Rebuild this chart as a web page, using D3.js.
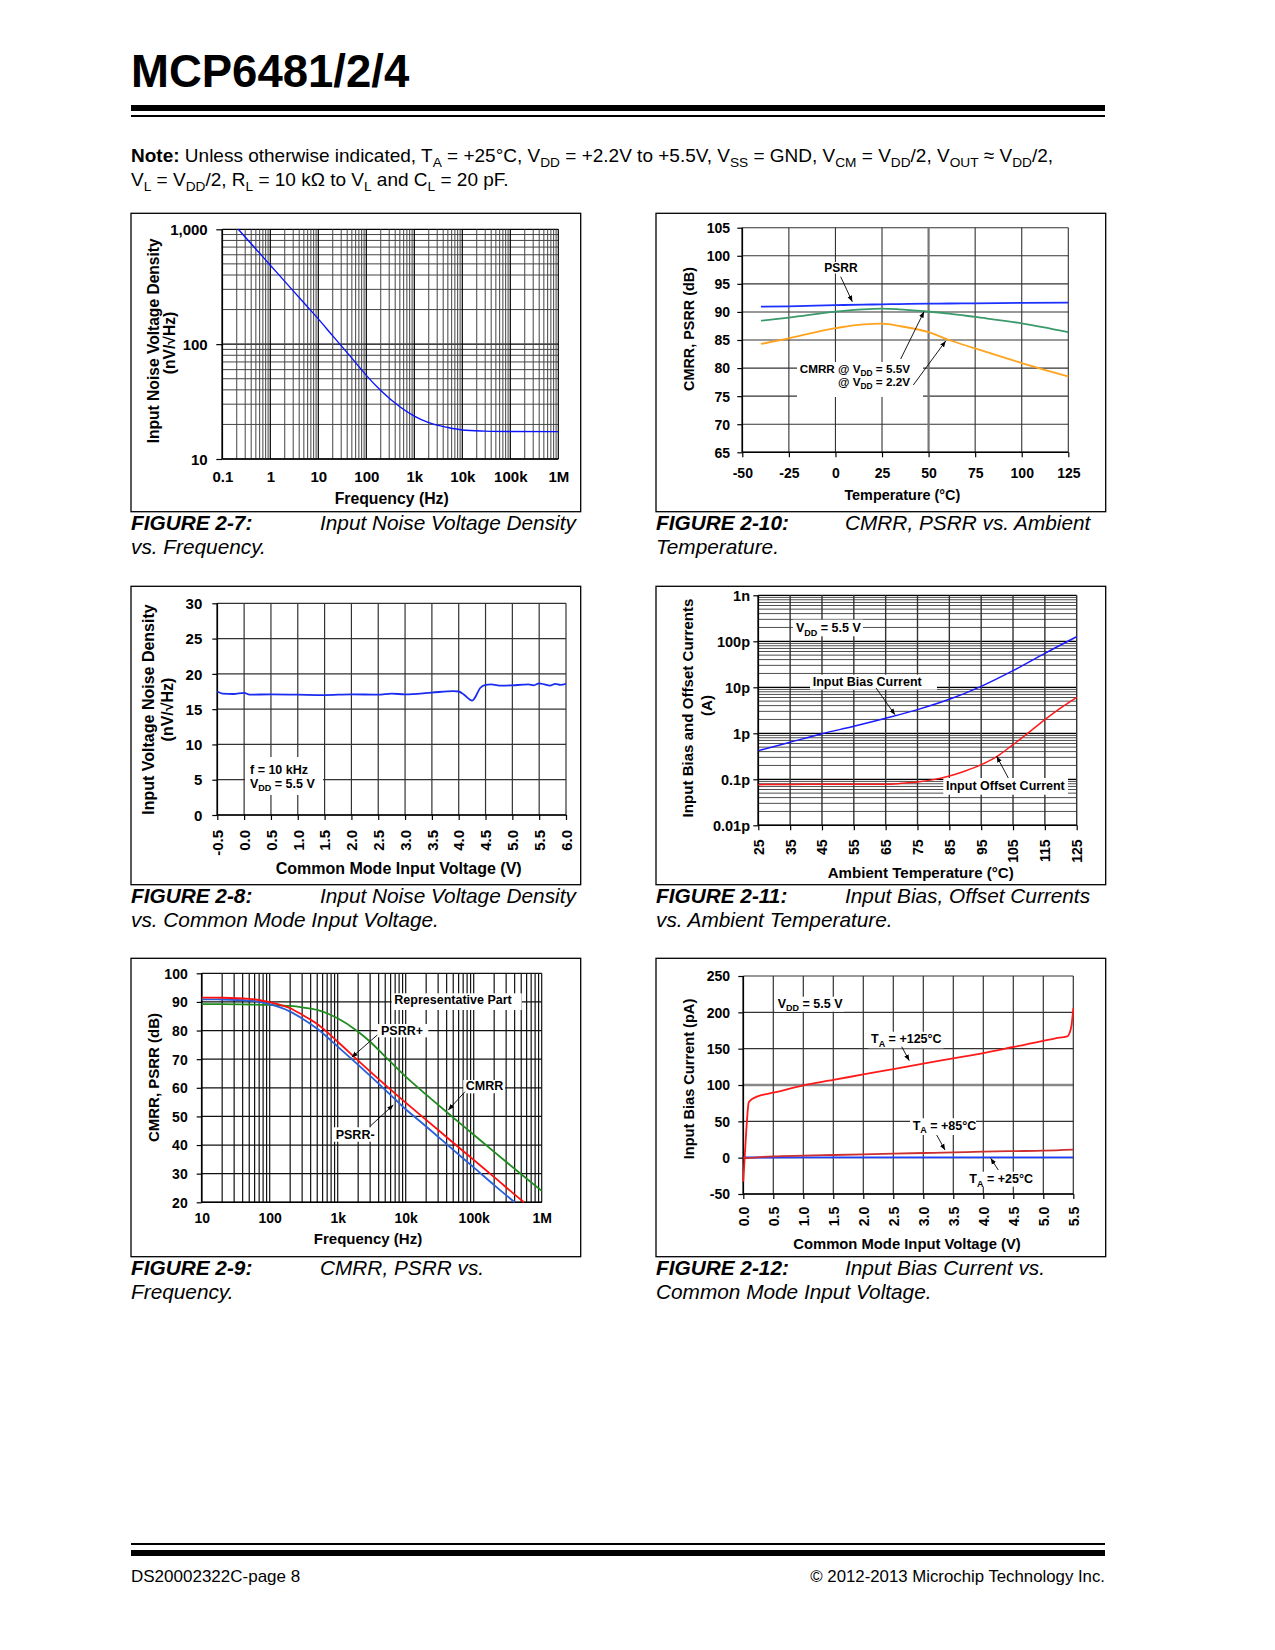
<!DOCTYPE html>
<html><head><meta charset="utf-8">
<script src="https://cdn.jsdelivr.net/npm/d3@7"></script>
<style>
html,body{margin:0;padding:0;background:#fff;}
svg{display:block;font-family:"Liberation Sans",Arial,Helvetica,sans-serif;}
</style></head><body>
<svg id="page" width="1275" height="1650"></svg>
<script>
// ================= DATA =================
// Figure 2-7: Input noise voltage density vs frequency
const fig7Freq  = [0.215,0.5,1,2,5,10,20,50,100,200,500,1000,2000,5000,10000,30000,100000,1000000];
const fig7Noise = [1000,674,487,352,229,166,118,75.5,53.5,39.5,28.5,23.6,20.7,18.8,17.9,17.5,17.35,17.3];
const fig7XTicks = [0.1,1,10,100,1e3,1e4,1e5,1e6];
const fig7XLabels = ["0.1","1","10","100","1k","10k","100k","1M"];
const fig7YTicks = [10,100,1000];
const fig7YLabels = ["10","100","1,000"];

// Figure 2-10: CMRR, PSRR vs ambient temperature
const fig10Temp    = [-40,-25,0,15,25,34,50,61,75,100,125];
const fig10Psrr    = [90.93,91.0,91.2,91.3,91.35,91.4,91.47,91.5,91.52,91.62,91.65];
const fig10Cmrr55  = [88.44,88.98,90.05,90.47,90.58,90.47,90.05,89.7,89.1,87.97,86.4];
const fig10Cmrr22  = [84.3,85.3,87.1,87.8,87.9,87.5,86.4,85.0,83.5,80.9,78.5];
const fig10XTicks  = [-50,-25,0,25,50,75,100,125];
const fig10XLabels = ["-50","-25","0","25","50","75","100","125"];
const fig10YTicks  = [65,70,75,80,85,90,95,100,105];
const fig10YLabels = ["65","70","75","80","85","90","95","100","105"];

// Figure 2-8: Input noise voltage density vs common mode input voltage
const fig8Vcm   = [-0.5,-0.4,-0.2,0.0,0.1,0.5,1.0,1.5,2.0,2.5,2.75,3.0,3.5,3.9,4.0,4.1,4.2,4.25,4.3,4.4,4.5,4.6,4.8,5.0,5.2,5.3,5.4,5.5,5.6,5.7,5.8,5.9,6.0];
const fig8Noise = [17.5,17.2,17.15,17.3,17.05,17.1,17.05,17.0,17.1,17.05,17.2,17.1,17.35,17.55,17.5,17.05,16.4,16.2,16.6,18.0,18.43,18.5,18.33,18.38,18.47,18.5,18.38,18.66,18.5,18.33,18.57,18.43,18.6];
const fig8XTicks  = [-0.5,0,0.5,1,1.5,2,2.5,3,3.5,4,4.5,5,5.5,6];
const fig8XLabels = ["-0.5","0.0","0.5","1.0","1.5","2.0","2.5","3.0","3.5","4.0","4.5","5.0","5.5","6.0"];
const fig8YTicks  = [0,5,10,15,20,25,30];
const fig8YLabels = ["0","5","10","15","20","25","30"];

// Figure 2-11: Input bias, offset currents vs ambient temperature (values in pA)
const fig11BiasTemp = [25,35,45,55,65,75,85,95,105,115,125];
const fig11Bias     = [0.42,0.64,0.98,1.42,2.12,3.27,5.48,10.5,23,54.8,126];
const fig11OffTemp  = [25,35,45,55,65,70,75,80,85,90,95,100,105,110,115,120,125];
const fig11Offset   = [0.0766,0.0775,0.0778,0.0778,0.0779,0.0818,0.0875,0.0984,0.118,0.152,0.208,0.316,0.567,1.05,1.98,3.56,6.06];
const fig11XTicks   = [25,35,45,55,65,75,85,95,105,115,125];
const fig11XLabels  = ["25","35","45","55","65","75","85","95","105","115","125"];
const fig11YTicks   = [0.01,0.1,1,10,100,1000];
const fig11YLabels  = ["0.01p","0.1p","1p","10p","100p","1n"];

// Figure 2-9: CMRR, PSRR vs frequency
const fig9PsrrPFreq = [10,20,50,100,200,300,500,1000,2000,5000,10000,20000,50000,100000,200000,500000,550000];
const fig9PsrrP     = [91.5,91.45,91.1,89.9,87.8,85.5,82.3,76.1,69.5,61.0,54.8,48.8,40.8,34.8,28.8,20.8,20.0];
const fig9PsrrMFreq = [10,20,50,100,200,300,500,1000,2000,5000,10000,20000,50000,100000,200000,400000];
const fig9PsrrM     = [90.9,90.85,90.45,89.2,86.6,84.2,80.6,74.4,68.0,59.3,52.5,46.5,38.3,32.2,26.0,20.0];
const fig9CmrrFreq  = [10,20,50,100,200,300,500,1000,2000,3000,5000,10000,20000,50000,100000,200000,500000,1000000];
const fig9Cmrr      = [89.2,89.2,89.1,88.95,88.6,88.1,87.2,84.3,79.6,76.1,70.9,63.9,57.6,49.6,43.6,37.6,29.8,24.0];
const fig9XTicks    = [10,100,1e3,1e4,1e5,1e6];
const fig9XLabels   = ["10","100","1k","10k","100k","1M"];
const fig9YTicks    = [20,30,40,50,60,70,80,90,100];
const fig9YLabels   = ["20","30","40","50","60","70","80","90","100"];

// Figure 2-12: Input bias current vs common mode input voltage (pA)
const fig12Vcm125 = [0,0.03,0.06,0.09,0.12,0.2,0.3,0.5,1.0,1.5,2.0,2.5,3.0,3.5,4.0,4.5,5.0,5.2,5.4,5.44,5.47,5.5];
const fig12Ib125  = [-33,10,50,76,79,83,86,89.4,99.5,106.9,114.7,122,129.4,136.7,144,152.3,160.6,164.2,167,172,182,205.5];
const fig12Vcm85  = [0,0.5,1.0,1.5,2.0,2.5,3.0,3.5,4.0,4.5,5.0,5.5];
const fig12Ib85   = [-1,1.8,2.8,3.7,4.6,5.5,6.4,7.3,8.3,9.0,9.6,11];
const fig12Vcm25  = [0,1,2,3,4,5,5.5];
const fig12Ib25   = [0.2,0.3,0.3,0.4,0.4,0.5,0.5];
const fig12XTicks  = [0,0.5,1,1.5,2,2.5,3,3.5,4,4.5,5,5.5];
const fig12XLabels = ["0.0","0.5","1.0","1.5","2.0","2.5","3.0","3.5","4.0","4.5","5.0","5.5"];
const fig12YTicks  = [-50,0,50,100,150,200,250];
const fig12YLabels = ["-50","0","50","100","150","200","250"];

// ================= HELPERS =================
const F = '"Liberation Sans", Arial, Helvetica, sans-serif';
const AN = 12.5; // annotation font size
const svg = d3.select("#page");
const defs = svg.append("defs");
defs.append("marker").attr("id","ah").attr("viewBox","0 0 10 10").attr("refX",10).attr("refY",5)
  .attr("markerWidth",6).attr("markerHeight",6).attr("markerUnits","userSpaceOnUse").attr("orient","auto")
  .append("path").attr("d","M0,1 L10,5 L0,9 Z").attr("fill","#000");

function rich(g, x, y, parts, o={}) {
  const fs = o.fs || AN;
  const t = g.append("text").attr("x",x).attr("y",y).attr("font-size",fs)
    .attr("font-weight",o.fw||"bold").attr("text-anchor",o.anchor||"start").attr("fill","#000");
  if (o.style) t.attr("font-style",o.style);
  const sh = fs*0.25; let shifted=false;
  parts.forEach(p=>{
    const s = typeof p==="string" ? p : p[0];
    const k = typeof p==="string" ? "n" : p[1];
    const ts = t.append("tspan").text(s);
    if (k==="s") { ts.attr("font-size",fs*0.72); if(!shifted){ts.attr("dy",sh); shifted=true;} }
    else { if(shifted){ts.attr("dy",-sh); shifted=false;} if(k==="b") ts.attr("font-weight","bold"); }
  });
  return t;
}
function frame(b){
  svg.append("rect").attr("x",b[0]).attr("y",b[1]).attr("width",b[2]-b[0]).attr("height",b[3]-b[1])
    .attr("fill","none").attr("stroke","#000").attr("stroke-width",1.3);
}
function caption(x, y, fig, title, line2){
  svg.append("text").attr("x",x).attr("y",y).attr("font-size",20.8).attr("font-weight","bold").attr("font-style","italic").text(fig);
  svg.append("text").attr("x",x+189).attr("y",y).attr("font-size",20.8).attr("font-style","italic").text(title);
  svg.append("text").attr("x",x).attr("y",y+24).attr("font-size",20.8).attr("font-style","italic").text(line2);
}
function gridLines(g, x, y, xs, ys, xst, yst){
  const [x0,x1]=x.range(), [y0,y1]=y.range();
  g.append("g").selectAll("line").data(ys).join("line")
    .attr("x1",x0).attr("x2",x1).attr("y1",d=>y(d)).attr("y2",d=>y(d))
    .attr("stroke",d=>yst(d).c).attr("stroke-width",d=>yst(d).w);
  g.append("g").selectAll("line").data(xs).join("line")
    .attr("y1",y0).attr("y2",y1).attr("x1",d=>x(d)).attr("x2",d=>x(d))
    .attr("stroke",d=>xst(d).c).attr("stroke-width",d=>xst(d).w);
}
function axisLines(g, x, y){
  const [x0,x1]=x.range(), [yb,yt]=y.range();
  g.append("line").attr("x1",x0).attr("x2",x0).attr("y1",yt).attr("y2",yb).attr("stroke","#000").attr("stroke-width",1.6);
  g.append("line").attr("x1",x0).attr("x2",x1).attr("y1",yb).attr("y2",yb).attr("stroke","#000").attr("stroke-width",1.6);
}
function axisY(g, x, y, ticks, labels, labelRight, tick, fs){
  const x0 = x.range()[0];
  const a = g.append("g").attr("transform",`translate(${x0},0)`)
    .call(d3.axisLeft(y).tickValues(ticks).tickFormat((d,i)=>labels[i]).tickSize(tick).tickPadding(x0-labelRight-tick));
  a.select(".domain").remove();
  a.selectAll("line").attr("stroke","#000").attr("stroke-width",1.2);
  a.selectAll("text").attr("font-family",F).attr("font-size",fs).attr("font-weight","bold").attr("fill","#000").attr("dy","0.35em");
}
function axisX(g, x, y, ticks, labels, pos, rotate, tick, fs){
  const yb = y.range()[0];
  const a = g.append("g").attr("transform",`translate(0,${yb})`)
    .call(d3.axisBottom(x).tickValues(ticks).tickFormat((d,i)=>labels[i]).tickSize(tick));
  a.select(".domain").remove();
  a.selectAll("line").attr("stroke","#000").attr("stroke-width",1.2);
  const t = a.selectAll("text").attr("font-family",F).attr("font-size",fs).attr("font-weight","bold").attr("fill","#000");
  if (rotate) {
    t.attr("x",0).attr("y",0).attr("dy","0.35em").attr("text-anchor","end")
     .attr("transform",`translate(0,${pos-yb}) rotate(-90)`);
  } else {
    t.attr("y",pos-yb).attr("dy","0.35em");
  }
}
function xTitle(g, cx, cy, s, fs){
  g.append("text").attr("x",cx).attr("y",cy).attr("dy","0.35em").attr("text-anchor","middle")
    .attr("font-size",fs).attr("font-weight","bold").text(s);
}
function yTitle(g, cx, cy, s, fs){
  g.append("text").attr("transform",`translate(${cx},${cy}) rotate(-90)`).attr("dy","0.35em").attr("text-anchor","middle")
    .attr("font-size",fs).attr("font-weight","bold").text(s);
}
function wbox(g, x0,y0,x1,y1){
  g.append("rect").attr("x",x0).attr("y",y0).attr("width",x1-x0).attr("height",y1-y0).attr("fill","#fff");
}
function arrow(g, x1,y1,x2,y2){
  g.append("line").attr("x1",x1).attr("y1",y1).attr("x2",x2).attr("y2",y2)
    .attr("stroke","#000").attr("stroke-width",0.9).attr("marker-end","url(#ah)");
}
function curve(g, x, y, xs, ys, color, w){
  const pts = xs.map((v,i)=>[v, ys[i]]);
  g.append("path").datum(pts).attr("fill","none").attr("stroke",color).attr("stroke-width",w)
    .attr("stroke-linejoin","round")
    .attr("d", d3.line().x(d=>x(d[0])).y(d=>y(d[1])).curve(d3.curveMonotoneX));
}
const isDecade = v => Math.abs(Math.log10(v) - Math.round(Math.log10(v))) < 1e-9;

// ================= HEADER =================
svg.append("text").attr("x",131).attr("y",87).attr("font-size",45.5).attr("font-weight","bold").text("MCP6481/2/4");
svg.append("rect").attr("x",131).attr("y",105).attr("width",974).attr("height",6).attr("fill","#000");
svg.append("rect").attr("x",131).attr("y",115).attr("width",974).attr("height",2).attr("fill","#000");
rich(svg, 131, 162, [["Note:","b"]," Unless otherwise indicated, T",["A","s"]," = +25°C, V",["DD","s"],
  " = +2.2V to +5.5V, V",["SS","s"]," = GND, V",["CM","s"]," = V",["DD","s"],"/2, V",["OUT","s"]," ≈ V",["DD","s"],"/2,"],
  {fs:19, fw:"normal"});
rich(svg, 131, 186, ["V",["L","s"]," = V",["DD","s"],"/2, R",["L","s"]," = 10 kΩ to V",["L","s"]," and C",["L","s"]," = 20 pF."],
  {fs:19, fw:"normal"});

// ================= FOOTER =================
svg.append("rect").attr("x",131).attr("y",1543).attr("width",974).attr("height",2).attr("fill","#000");
svg.append("rect").attr("x",131).attr("y",1550).attr("width",974).attr("height",6).attr("fill","#000");
svg.append("text").attr("x",131).attr("y",1582).attr("font-size",17).text("DS20002322C-page 8");
svg.append("text").attr("x",1105).attr("y",1582).attr("font-size",16.8).attr("text-anchor","end").text("© 2012-2013 Microchip Technology Inc.");

// ================= FIGURE 2-7 =================
{
  frame([131,213.3,580.7,511.7]);
  const g = svg.append("g");
  const x = d3.scaleLog().domain([0.1,1e6]).range([222.3,558.3]);
  const y = d3.scaleLog().domain([10,1000]).range([459,229.3]);
  gridLines(g, x, y, x.ticks(), y.ticks(),
    d=>isDecade(d)?{c:"#000",w:1.2}:{c:"#444",w:1},
    d=>isDecade(d)?{c:"#000",w:1.2}:{c:"#444",w:1});
  axisLines(g, x, y);
  curve(g, x, y, fig7Freq, fig7Noise, "#0a14ff", 1.4);
  axisY(g, x, y, fig7YTicks, fig7YLabels, 207.7, 6, 15);
  axisX(g, x, y, fig7XTicks, fig7XLabels, 476.7, false, 0, 15);
  xTitle(g, 391.7, 498.5, "Frequency (Hz)", 15.8);
  yTitle(g, 153.3, 340.8, "Input Noise Voltage Density", 15.6);
  yTitle(g, 170, 343, "(nV/√Hz)", 15.6);
  caption(131, 530, "FIGURE 2-7:", "Input Noise Voltage Density", "vs. Frequency.");
}

// ================= FIGURE 2-10 =================
{
  frame([656,213.3,1105.7,511.7]);
  const g = svg.append("g");
  const x = d3.scaleLinear().domain([-50,125]).range([742.3,1068.3]);
  const y = d3.scaleLinear().domain([65,105]).range([452.3,227.7]);
  gridLines(g, x, y, fig10XTicks, fig10YTicks,
    d=>d===50?{c:"#777",w:2.2}:{c:"#333",w:1.1},
    d=>({c:"#333",w:1.1}));
  axisLines(g, x, y);
  wbox(g, 823, 262, 858, 273.5);
  wbox(g, 797, 362, 923, 397);
  curve(g, x, y, fig10Temp, fig10Cmrr22, "#ffa31f", 1.8);
  curve(g, x, y, fig10Temp, fig10Cmrr55, "#3a9a6c", 1.8);
  curve(g, x, y, fig10Temp, fig10Psrr, "#1c30ff", 1.8);
  g.append("text").attr("x",841).attr("y",272).attr("text-anchor","middle").attr("font-size",12).attr("font-weight","bold").text("PSRR");
  arrow(g, 840.7, 276.7, 852.3, 301.7);
  rich(g, 910, 372.6, ["CMRR @ V",["DD","s"]," = 5.5V"], {anchor:"end", fs:11.7});
  rich(g, 910, 386, ["@ V",["DD","s"]," = 2.2V"], {anchor:"end", fs:11.7});
  arrow(g, 900.7, 359, 924, 311.7);
  arrow(g, 913.3, 385, 945.7, 341);
  axisY(g, x, y, fig10YTicks, fig10YLabels, 730, 5, 14);
  axisX(g, x, y, fig10XTicks, fig10XLabels, 473.3, false, 5, 14);
  xTitle(g, 902.3, 495, "Temperature (°C)", 14.4);
  yTitle(g, 689.3, 329, "CMRR, PSRR (dB)", 14.4);
  caption(656, 530, "FIGURE 2-10:", "CMRR, PSRR vs. Ambient", "Temperature.");
}

// ================= FIGURE 2-8 =================
{
  frame([131,586.3,580.7,884.7]);
  const g = svg.append("g");
  const x = d3.scaleLinear().domain([-0.5,6.0]).range([217.3,566]);
  const y = d3.scaleLinear().domain([0,30]).range([815,603.3]);
  gridLines(g, x, y, fig8XTicks, fig8YTicks, d=>({c:"#333",w:1.2}), d=>({c:"#333",w:1.2}));
  axisLines(g, x, y);
  wbox(g, 245, 757, 323, 795);
  curve(g, x, y, fig8Vcm, fig8Noise, "#1a2cf0", 1.8);
  rich(g, 250, 773.5, ["f = 10 kHz"]);
  rich(g, 250, 787.5, ["V",["DD","s"]," = 5.5 V"]);
  axisY(g, x, y, fig8YTicks, fig8YLabels, 202.3, 5, 15);
  axisX(g, x, y, fig8XTicks, fig8XLabels, 830, true, 5, 15);
  xTitle(g, 398.7, 868, "Common Mode Input Voltage (V)", 16);
  yTitle(g, 148.3, 709.5, "Input Voltage Noise Density", 16);
  yTitle(g, 167.7, 709.5, "(nV/√Hz)", 16);
  caption(131, 903, "FIGURE 2-8:", "Input Noise Voltage Density", "vs. Common Mode Input Voltage.");
}

// ================= FIGURE 2-11 =================
{
  frame([656,586.3,1105.7,884.7]);
  const g = svg.append("g");
  const x = d3.scaleLinear().domain([25,125]).range([758.3,1076.7]);
  const y = d3.scaleLog().domain([0.01,1000]).range([825.3,595.3]);
  gridLines(g, x, y, fig11XTicks, y.ticks(),
    d=>({c:"#333",w:1.4}),
    d=>isDecade(d)?{c:"#000",w:1.2}:{c:"#3a3a3a",w:0.9});
  axisLines(g, x, y);
  wbox(g, 793, 619.7, 863, 636.3);
  wbox(g, 810, 674.7, 937, 689.7);
  wbox(g, 943.3, 778, 1068, 794.7);
  curve(g, x, y, fig11OffTemp, fig11Offset, "#ff1a1a", 1.5);
  curve(g, x, y, fig11BiasTemp, fig11Bias, "#1a1aff", 1.5);
  rich(g, 796, 632.4, ["V",["DD","s"]," = 5.5 V"]);
  rich(g, 812.7, 686.4, ["Input Bias Current"]);
  rich(g, 946, 790.4, ["Input Offset Current"]);
  arrow(g, 876, 688, 895, 714.7);
  arrow(g, 1008.3, 778, 996.7, 756.3);
  axisY(g, x, y, fig11YTicks, fig11YLabels, 750, 5, 14.5);
  axisX(g, x, y, fig11XTicks, fig11XLabels, 839.5, true, 5, 14);
  xTitle(g, 920.7, 873, "Ambient Temperature (°C)", 15.1);
  yTitle(g, 687.3, 708, "Input Bias and Offset Currents", 15.1);
  yTitle(g, 706.7, 705.5, "(A)", 15.1);
  caption(656, 903, "FIGURE 2-11:", "Input Bias, Offset Currents", "vs. Ambient Temperature.");
}

// ================= FIGURE 2-9 =================
{
  frame([131,958.3,580.7,1256.7]);
  const g = svg.append("g");
  const x = d3.scaleLog().domain([10,1e6]).range([201.7,541.7]);
  const y = d3.scaleLinear().domain([20,100]).range([1202.3,973.3]);
  gridLines(g, x, y, x.ticks(), fig9YTicks, d=>({c:"#111",w:1.2}), d=>({c:"#111",w:1.2}));
  axisLines(g, x, y);
  wbox(g, 391.7, 993.3, 521.7, 1010);
  wbox(g, 377.3, 1024, 428.3, 1037.3);
  wbox(g, 463.3, 1080, 505, 1093.3);
  wbox(g, 333.3, 1127.3, 376.7, 1141.7);
  curve(g, x, y, fig9CmrrFreq, fig9Cmrr, "#1f8c1f", 1.8);
  curve(g, x, y, fig9PsrrMFreq, fig9PsrrM, "#2a5fdc", 1.8);
  curve(g, x, y, fig9PsrrPFreq, fig9PsrrP, "#ff1010", 1.8);
  rich(g, 394.3, 1004.4, ["Representative Part"]);
  rich(g, 381, 1035, ["PSRR+"]);
  rich(g, 465.7, 1090.4, ["CMRR"]);
  rich(g, 335.7, 1138.7, ["PSRR-"]);
  arrow(g, 377.3, 1035, 351.7, 1057.3);
  arrow(g, 465, 1091.7, 448.3, 1110);
  arrow(g, 370.7, 1125.7, 393.3, 1105);
  axisY(g, x, y, fig9YTicks, fig9YLabels, 187.7, 5, 14);
  axisX(g, x, y, fig9XTicks, fig9XLabels, 1218.3, false, 0, 14);
  xTitle(g, 368, 1238.3, "Frequency (Hz)", 15);
  yTitle(g, 153.3, 1077.5, "CMRR, PSRR (dB)", 15);
  caption(131, 1275, "FIGURE 2-9:", "CMRR, PSRR vs.", "Frequency.");
}

// ================= FIGURE 2-12 =================
{
  frame([656,958.3,1105.7,1256.7]);
  const g = svg.append("g");
  const x = d3.scaleLinear().domain([0,5.5]).range([743.3,1073.3]);
  const y = d3.scaleLinear().domain([-50,250]).range([1194,976]);
  gridLines(g, x, y, fig12XTicks, fig12YTicks,
    d=>({c:"#333",w:1.2}),
    d=>d===100?{c:"#888",w:2.6}:{c:"#333",w:1.2});
  axisLines(g, x, y);
  wbox(g, 775, 996.7, 844, 1011.7);
  wbox(g, 868.3, 1031.7, 943.5, 1048.3);
  wbox(g, 910, 1118.3, 976, 1135);
  wbox(g, 966.7, 1171.7, 1032.5, 1186.7);
  curve(g, x, y, fig12Vcm25, fig12Ib25, "#2040ff", 1.8);
  curve(g, x, y, fig12Vcm85, fig12Ib85, "#cc2f2f", 1.8);
  curve(g, x, y, fig12Vcm125, fig12Ib125, "#ff1a1a", 1.8);
  rich(g, 777.7, 1007.7, ["V",["DD","s"]," = 5.5 V"]);
  rich(g, 871, 1043.4, ["T",["A","s"]," = +125°C"]);
  rich(g, 912.7, 1130, ["T",["A","s"]," = +85°C"]);
  rich(g, 969.3, 1183.4, ["T",["A","s"]," = +25°C"]);
  arrow(g, 901.7, 1046.7, 909.3, 1060.7);
  arrow(g, 936.7, 1135, 945, 1150);
  arrow(g, 998.3, 1170, 990.7, 1158.3);
  axisY(g, x, y, fig12YTicks, fig12YLabels, 730, 5, 14);
  axisX(g, x, y, fig12XTicks, fig12XLabels, 1206.7, true, 5, 14);
  xTitle(g, 907, 1244.3, "Common Mode Input Voltage (V)", 14.8);
  yTitle(g, 689.3, 1079, "Input Bias Current (pA)", 14.6);
  caption(656, 1275, "FIGURE 2-12:", "Input Bias Current vs.", "Common Mode Input Voltage.");
}
</script>
</body></html>
